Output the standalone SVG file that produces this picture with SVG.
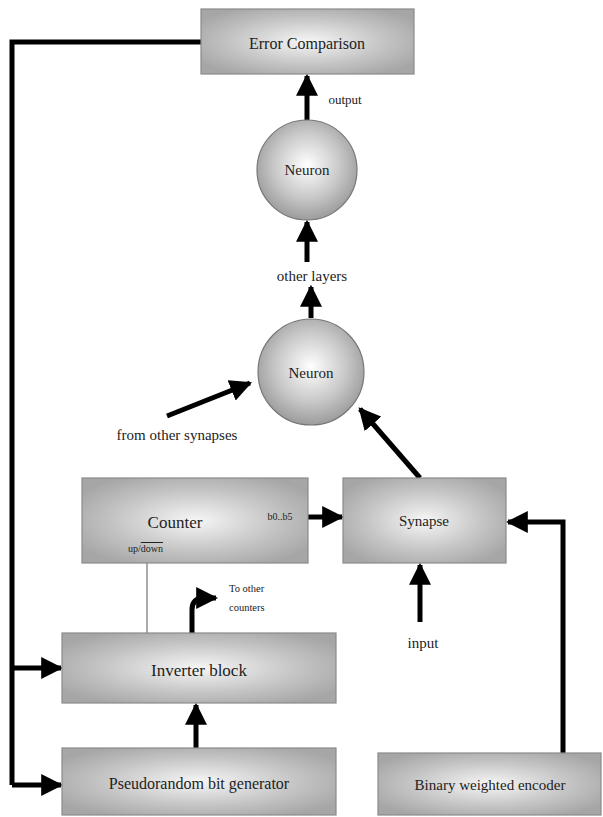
<svg xmlns="http://www.w3.org/2000/svg" width="603" height="817" viewBox="0 0 603 817">
<defs>
<radialGradient id="boxg" cx="0.5" cy="0.5" r="0.6">
<stop offset="0" stop-color="#f6f6f6"/>
<stop offset="0.6" stop-color="#c4c4c4"/>
<stop offset="1" stop-color="#a6a6a6"/>
</radialGradient>
<radialGradient id="circg" cx="0.5" cy="0.45" r="0.55">
<stop offset="0" stop-color="#ffffff"/>
<stop offset="0.6" stop-color="#c8c8c8"/>
<stop offset="1" stop-color="#9c9c9c"/>
</radialGradient>
<marker id="ah" viewBox="0 0 10 10" refX="9" refY="5" markerWidth="4.4" markerHeight="4.4" markerUnits="strokeWidth" orient="auto">
<path d="M0,0 L10,5 L0,10 Z" fill="#000"/>
</marker>
</defs>
<style>
.box{fill:url(#boxg);stroke:#8a8a8a;stroke-width:1.2}
.circ{fill:url(#circg);stroke:#777;stroke-width:1.2}
.t{font-family:'Liberation Serif',serif;fill:#222;text-anchor:middle}
.s{font-family:'Liberation Serif',serif;fill:#222}
.c{stroke:#000;stroke-width:5;fill:none;marker-end:url(#ah)}
.l{stroke:#000;stroke-width:5;fill:none}
</style>
<rect width="603" height="817" fill="#fff"/>
<g id="connectors">
<polyline class="l" points="201,42 12,42 12,785"/>
<line class="c" x1="12" y1="668" x2="61" y2="668"/>
<line class="c" x1="12" y1="785" x2="61" y2="785"/>
<line class="c" x1="307" y1="120" x2="307" y2="76"/>
<line class="c" x1="307" y1="262" x2="307" y2="222"/>
<line class="c" x1="311" y1="318" x2="311" y2="287"/>
<line class="c" x1="167" y1="416" x2="250" y2="383"/>
<line class="c" x1="420" y1="478" x2="360" y2="409"/>
<line class="c" x1="308" y1="517" x2="342" y2="517"/>
<line class="c" x1="420" y1="622" x2="420" y2="565"/>
<polyline class="c" points="563,753 563,522 508,522"/>
<line class="c" x1="196" y1="748" x2="196" y2="705"/>
<line stroke="#aaa" stroke-width="2" x1="147" y1="563" x2="147" y2="633"/>
<path class="c" d="M192,633 L192,610 Q192,598 204,598 L216,598"/>
</g>
<g id="error-comparison">
<rect class="box" x="201" y="9" width="213" height="65"/>
<text class="t" x="307" y="49" font-size="16">Error Comparison</text>
</g>
<text class="t" x="345" y="104" font-size="13">output</text>
<g id="neuron-out">
<circle class="circ" cx="307" cy="170" r="50"/>
<text class="t" x="307" y="175" font-size="15">Neuron</text>
</g>
<text class="t" x="312" y="281" font-size="15">other layers</text>
<g id="neuron-hidden">
<circle class="circ" cx="311" cy="372" r="53"/>
<text class="t" x="311" y="378" font-size="15">Neuron</text>
</g>
<text class="t" x="177" y="440" font-size="15">from other synapses</text>
<g id="counter">
<rect class="box" x="82" y="478" width="226" height="85"/>
<text class="t" x="175" y="528" font-size="17">Counter</text>
<text class="t" x="280" y="520" font-size="10">b0..b5</text>
<text class="s" x="128" y="552" font-size="10">up/<tspan text-decoration="overline">down</tspan></text>
</g>
<g id="synapse">
<rect class="box" x="343" y="478" width="163" height="85"/>
<text class="t" x="424" y="526" font-size="15">Synapse</text>
</g>
<text class="t" x="423" y="648" font-size="15">input</text>
<g id="to-other-counters">
<text class="s" x="229" y="592" font-size="10.5">To other</text>
<text class="s" x="229" y="611" font-size="10.5">counters</text>
</g>
<g id="inverter">
<rect class="box" x="62" y="633" width="274" height="70"/>
<text class="t" x="199" y="676" font-size="17">Inverter block</text>
</g>
<g id="pseudorandom">
<rect class="box" x="62" y="748" width="274" height="67"/>
<text class="t" x="199" y="789" font-size="16">Pseudorandom bit generator</text>
</g>
<g id="binary-encoder">
<rect class="box" x="378" y="753" width="223" height="62"/>
<text class="t" x="490" y="790" font-size="15">Binary weighted encoder</text>
</g>
</svg>
